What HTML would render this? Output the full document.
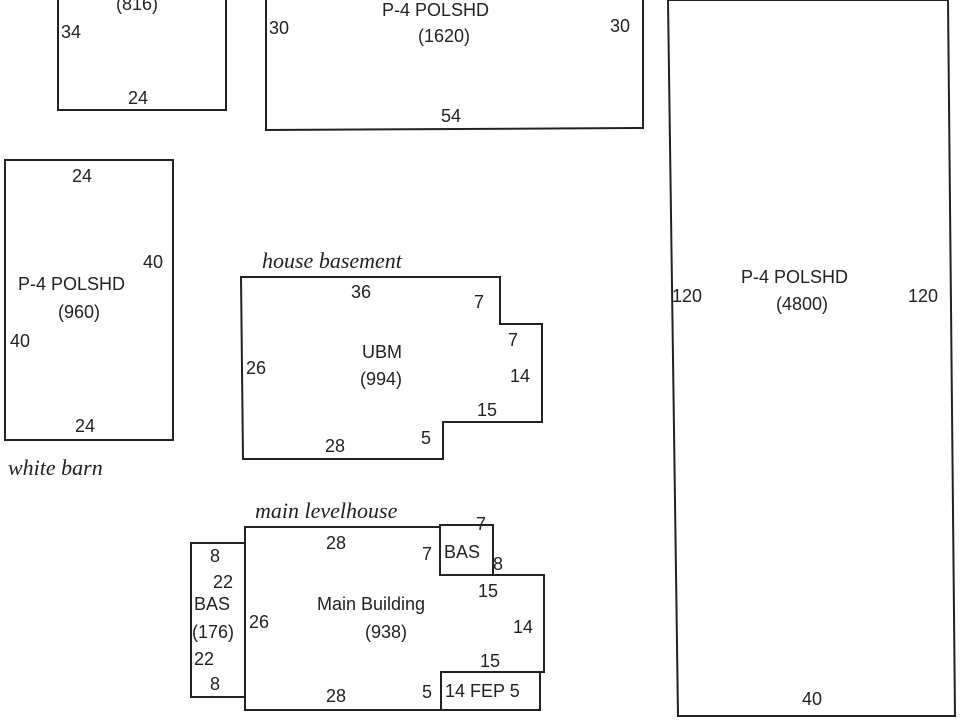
<!DOCTYPE html>
<html><head><style>
body{margin:0;background:#fff;}
svg{display:block}
text{font-family:"Liberation Sans",sans-serif;font-size:18px;fill:#222}
.h{font-family:"Liberation Serif",serif;font-style:italic;font-size:22px}
</style></head><body>
<svg width="960" height="720" viewBox="0 0 960 720" fill="none" stroke="#222" stroke-width="2">
<polyline points="58,0 58,110 226,110 226,0"/>
<polyline points="266,0 266,130 643,128 643,0"/>
<polygon points="668,0 948,0 955,716 678,716"/>
<rect x="5" y="160" width="168" height="280"/>
<polygon points="241,277 500,277 500,324 542,324 542,422 443,422 443,459 243,459"/>
<polygon points="245,527 440,527 440,575 544,575 544,672 441,672 441,710 245,710"/>
<rect x="440" y="525" width="53" height="50"/>
<rect x="441" y="672" width="99" height="38"/>
<rect x="191" y="543" width="54" height="154"/>
<g stroke="none">
<text x="116" y="10">(816)</text>
<text x="61" y="38">34</text><text x="128" y="104">24</text>
<text x="269" y="34">30</text><text x="382" y="16">P-4 POLSHD</text><text x="418" y="42">(1620)</text>
<text x="610" y="32">30</text><text x="441" y="122">54</text>
<text x="72" y="182">24</text><text x="143" y="268">40</text>
<text x="18" y="290">P-4 POLSHD</text><text x="58" y="318">(960)</text>
<text x="10" y="347">40</text><text x="75" y="432">24</text>
<text class="h" x="8" y="475">white barn</text>
<text class="h" x="262" y="268">house basement</text>
<text x="351" y="298">36</text><text x="474" y="308">7</text><text x="508" y="346">7</text>
<text x="362" y="358">UBM</text><text x="360" y="385">(994)</text>
<text x="246" y="374">26</text><text x="510" y="382">14</text><text x="477" y="416">15</text>
<text x="421" y="444">5</text><text x="325" y="452">28</text>
<text x="741" y="283">P-4 POLSHD</text><text x="776" y="310">(4800)</text>
<text x="672" y="302">120</text><text x="908" y="302">120</text><text x="802" y="705">40</text>
<text class="h" x="255" y="518">main levelhouse</text>
<text x="326" y="549">28</text><text x="422" y="560">7</text><text x="476" y="530">7</text>
<text x="444" y="558">BAS</text><text x="493" y="570">8</text>
<text x="478" y="597">15</text><text x="317" y="610">Main Building</text><text x="365" y="638">(938)</text>
<text x="249" y="628">26</text><text x="513" y="633">14</text><text x="480" y="667">15</text>
<text x="326" y="702">28</text><text x="422" y="698">5</text><text x="445" y="697">14 FEP 5</text>
<text x="210" y="562">8</text><text x="213" y="588">22</text><text x="194" y="610">BAS</text>
<text x="192" y="638">(176)</text><text x="194" y="665">22</text><text x="210" y="690">8</text>
</g>
</svg>
</body></html>
